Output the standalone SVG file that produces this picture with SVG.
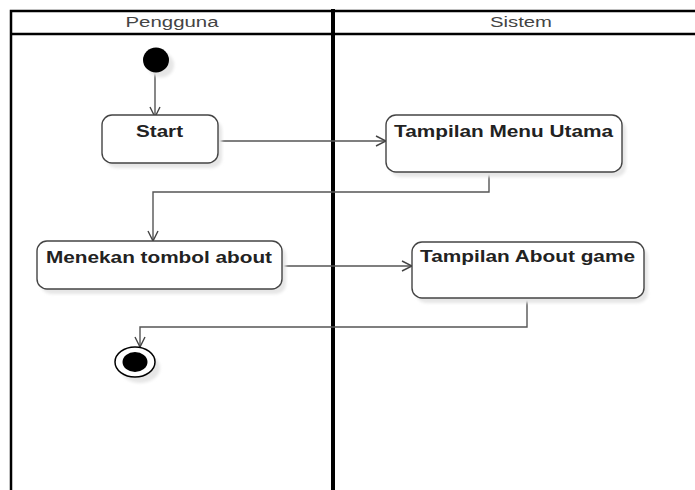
<svg xmlns="http://www.w3.org/2000/svg" width="695" height="490" viewBox="0 0 695 490">
  <style>
    .lane { fill: none; stroke: #000; stroke-width: 2.5; }
    .divider { stroke: #000; stroke-width: 4; }
    .hdr { font-family: "Liberation Sans", Arial, sans-serif; font-size: 14px; fill: #444; text-anchor: middle; }
    .box { fill: #fff; stroke: #444; stroke-width: 1.4; }
    .shadow { fill: #e6e6e6; filter: url(#soft); }
    .lbl { font-family: "Liberation Sans", Arial, sans-serif; font-size: 16px; font-weight: bold; fill: #222; }
    .edge { fill: none; stroke: #555; stroke-width: 1.4; marker-end: url(#open); }
  </style>
  <defs>
    <filter id="soft" x="-20%" y="-20%" width="140%" height="140%">
      <feGaussianBlur stdDeviation="1.5"/>
    </filter>
    <marker id="open" viewBox="0 0 12 12" refX="11" refY="6" markerWidth="12" markerHeight="12" markerUnits="userSpaceOnUse" orient="auto">
      <path d="M1,1 L11,6 L1,11" fill="none" stroke="#444" stroke-width="1.4"/>
    </marker>
  </defs>

  <rect width="695" height="490" fill="#fff"/>

  <!-- swimlanes -->
  <g id="lanes">
    <path class="lane" d="M11,492 V11 H697"/>
    <line class="lane" x1="11" y1="34" x2="697" y2="34"/>
    <line class="divider" x1="333" y1="9" x2="333" y2="492"/>
    <text class="hdr" x="172" y="27" textLength="93" lengthAdjust="spacingAndGlyphs">Pengguna</text>
    <text class="hdr" x="521" y="27" textLength="62" lengthAdjust="spacingAndGlyphs">Sistem</text>
  </g>

  <!-- connectors -->
  <g id="connectors">
    <path class="edge" d="M155,72 V117"/>
    <path class="edge" d="M218,141 H386"/>
    <path class="edge" d="M489,172 V192 H153 V241"/>
    <path class="edge" d="M282,266 H412"/>
    <path class="edge" d="M527,298 V327 H140 V347"/>
  </g>

  <g id="initial">
    <ellipse class="shadow" cx="161" cy="65" rx="13" ry="12.5"/>
    <ellipse cx="156" cy="60" rx="13" ry="12.5" fill="#000"/>
  </g>

  <g id="start">
    <rect class="shadow" x="106" y="120" width="116" height="48" rx="10"/>
    <rect class="box" x="102" y="115" width="116" height="48" rx="10"/>
    <text class="lbl" x="136" y="137" textLength="47" lengthAdjust="spacingAndGlyphs">Start</text>
  </g>

  <g id="menu-utama">
    <rect class="shadow" x="390" y="120" width="236" height="57" rx="10"/>
    <rect class="box" x="386" y="115" width="236" height="57" rx="10"/>
    <text class="lbl" x="394" y="137" textLength="219" lengthAdjust="spacingAndGlyphs">Tampilan Menu Utama</text>
  </g>

  <g id="tombol-about">
    <rect class="shadow" x="41" y="246" width="245" height="48" rx="10"/>
    <rect class="box" x="37" y="241" width="245" height="48" rx="10"/>
    <text class="lbl" x="46" y="263" textLength="226" lengthAdjust="spacingAndGlyphs">Menekan tombol about</text>
  </g>

  <g id="about-game">
    <rect class="shadow" x="416" y="247" width="232" height="56" rx="10"/>
    <rect class="box" x="412" y="242" width="232" height="56" rx="10"/>
    <text class="lbl" x="420" y="262" textLength="215" lengthAdjust="spacingAndGlyphs">Tampilan About game</text>
  </g>

  <g id="final">
    <ellipse class="shadow" cx="140" cy="368" rx="20" ry="15"/>
    <ellipse cx="135" cy="362" rx="20" ry="15" fill="#fff" stroke="#000" stroke-width="1.5"/>
    <ellipse cx="135" cy="362" rx="12.5" ry="10" fill="#000"/>
  </g>
</svg>
